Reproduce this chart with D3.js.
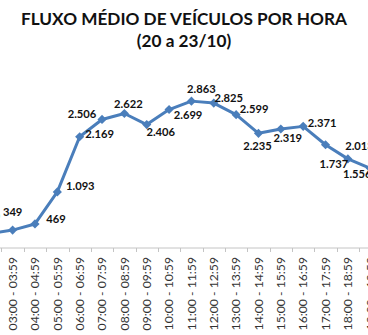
<!DOCTYPE html>
<html>
<head>
<meta charset="utf-8">
<script src="https://cdn.jsdelivr.net/npm/d3@7"></script>
<style>
  html, body { margin: 0; padding: 0; background: #fff; overflow: hidden; }
  svg { display: block; }
</style>
</head>
<body>
<svg id="chart" width="368" height="335"></svg>
<script>
// Average vehicle flow per hour, 20 to 23 October
const hours = ["02:00 - 02:59", "03:00 - 03:59", "04:00 - 04:59", "05:00 - 05:59", "06:00 - 06:59",
  "07:00 - 07:59", "08:00 - 08:59", "09:00 - 09:59", "10:00 - 10:59", "11:00 - 11:59",
  "12:00 - 12:59", "13:00 - 13:59", "14:00 - 14:59", "15:00 - 15:59", "16:00 - 16:59",
  "17:00 - 17:59", "18:00 - 18:59", "19:00 - 19:59"];
const flow = [280, 349, 469, 1093, 2169, 2506, 2622, 2406, 2699, 2863,
  2825, 2599, 2235, 2319, 2371, 2013, 1737, 1556];
const titleLines = ["FLUXO MÉDIO DE VEÍCULOS POR HORA", "(20 a 23/10)"];
// label offsets from each marker (dx, dy), hand-placed to avoid overlaps
const labelOffset = [[0, -18], [0, -18], [21, -5], [23, -6], [20, -3],
  [-20, -5], [4, -9], [14, 8], [19, 6], [10, -12],
  [15, -5], [18, -6], [-1, 13], [7, 9], [19, -3],
  [34, 1], [-14, 5], [-13, 6]];

const fmt = v => d3.format(",")(v).replace(/,/g, ".");

const W = 368;
const svg = d3.select("#chart");
const blue = "#4a7ebb";

const x = d3.scaleBand().domain(hours).range([-20.9, -20.9 + 18 * 22.35]).padding(0);
const cx = h => x(h) + x.bandwidth() / 2;
const y = d3.scaleLinear().domain([0, 3500]).range([248, 248 - 3500 * 0.0513]);

// title
svg.append("g").selectAll("text").data(titleLines).join("text")
  .attr("x", 184).attr("y", (d, i) => 25 + i * 22)
  .attr("text-anchor", "middle")
  .attr("font-family", "Lato, 'Open Sans', sans-serif")
  .attr("font-weight", "bold").attr("font-size", 17.2)
  .attr("fill", "#111")
  .text(d => d);

// category axis: ticks between categories, labels rotated
const axisY = y(0);
const axis = svg.append("g").attr("transform", `translate(0,${axisY})`);
axis.append("line").attr("x1", 0).attr("x2", W).attr("y1", 0).attr("y2", 0)
  .attr("stroke", "#c4c4c4").attr("stroke-width", 1);
const bounds = hours.map(h => x(h)).concat([x(hours[hours.length - 1]) + x.bandwidth()]);
axis.selectAll("line.tick").data(bounds).join("line").attr("class", "tick")
  .attr("x1", d => Math.round(d) + 0.5).attr("x2", d => Math.round(d) + 0.5)
  .attr("y1", 0).attr("y2", 4).attr("stroke", "#c4c4c4");

const xAxis = d3.axisBottom(x).tickSize(0).tickPadding(0);
const ag = svg.append("g").attr("transform", `translate(0,${axisY})`).call(xAxis);
ag.select(".domain").remove();
ag.selectAll(".tick text")
  .attr("transform", "rotate(-90)")
  .attr("x", -9).attr("y", 0).attr("dy", "0.35em")
  .attr("text-anchor", "end")
  .attr("font-family", "Lato, 'Open Sans', sans-serif")
  .attr("font-size", 12.2).attr("fill", "#333");

// series line
const line = d3.line().x((d, i) => cx(hours[i])).y(d => y(d));
svg.append("path").datum(flow)
  .attr("d", line).attr("fill", "none")
  .attr("stroke", blue).attr("stroke-width", 3).attr("stroke-linejoin", "round");

// diamond markers
svg.append("g").selectAll("path").data(flow).join("path")
  .attr("d", d3.symbol(d3.symbolSquare, 42))
  .attr("transform", (d, i) => `translate(${cx(hours[i])},${y(d)}) rotate(45)`)
  .attr("fill", blue);

// value labels
svg.append("g").selectAll("text").data(flow).join("text")
  .attr("class", "value")
  .attr("x", (d, i) => cx(hours[i]) + labelOffset[i][0])
  .attr("y", (d, i) => y(d) + labelOffset[i][1])
  .attr("dy", "0.35em").attr("text-anchor", "middle")
  .attr("font-family", "Lato, 'Open Sans', sans-serif")
  .attr("font-weight", "bold").attr("font-size", 11.2)
  .attr("fill", "#111")
  .text(d => fmt(d));

// drop texts that fall entirely left of the drawing area
svg.selectAll("text").each(function () {
  const b = this.getBoundingClientRect();
  if (b.right <= 0) d3.select(this).remove();
});
</script>
</body>
</html>
